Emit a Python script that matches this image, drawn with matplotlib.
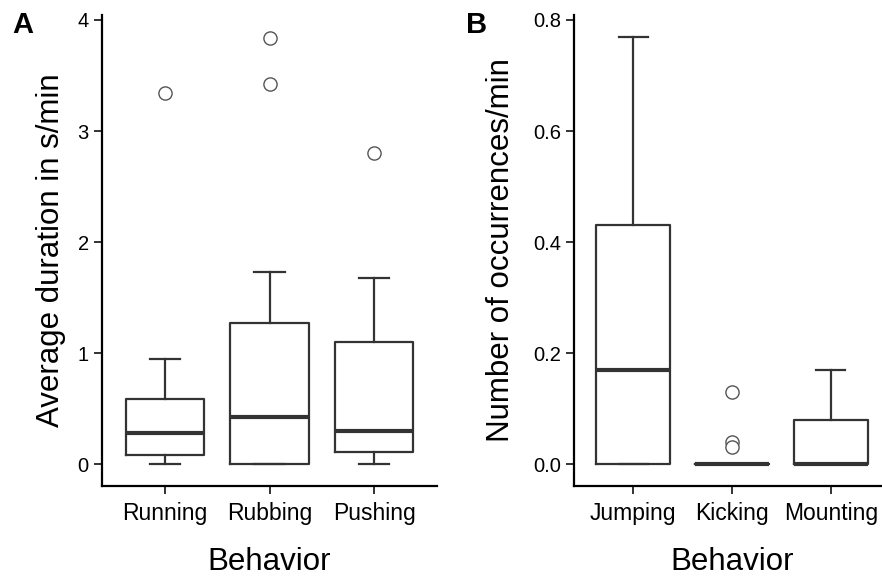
import matplotlib
matplotlib.use("Agg")
import matplotlib.pyplot as plt

plt.rcParams['font.family'] = ['Liberation Sans', 'DejaVu Sans']

# Panel A data (box statistics)
cats_a = ["Running", "Rubbing", "Pushing"]
whislo_a = [0.0, 0.0, 0.0]
q1_a = [0.08, 0.0, 0.115]
med_a = [0.28, 0.43, 0.30]
q3_a = [0.59, 1.27, 1.105]
whishi_a = [0.95, 1.73, 1.68]
fliers_a = [[3.34], [3.84, 3.42], [2.80]]
yticks_a = [0, 1, 2, 3, 4]

# Panel B data
cats_b = ["Jumping", "Kicking", "Mounting"]
whislo_b = [0.0, 0.0, 0.0]
q1_b = [0.0, 0.0, 0.0]
med_b = [0.17, 0.0, 0.0]
q3_b = [0.43, 0.0, 0.08]
whishi_b = [0.77, 0.0, 0.17]
fliers_b = [[], [0.13, 0.04, 0.03], []]
yticks_b = [0.0, 0.2, 0.4, 0.6, 0.8]

LINE = "#333333"

def make_stats(cats, wl, q1, med, q3, wh, fl):
    return [dict(label=c, whislo=a, q1=b, med=m, q3=d, whishi=e, fliers=f)
            for c, a, b, m, d, e, f in zip(cats, wl, q1, med, q3, wh, fl)]

def draw(ax, stats, yticks, ylim, ylabel, fmt, ylabelpad):
    ax.bxp(stats, positions=range(len(stats)), widths=0.75, capwidths=0.29,
           showfliers=True,
           boxprops=dict(color=LINE, linewidth=1.6),
           whiskerprops=dict(color=LINE, linewidth=1.6),
           capprops=dict(color=LINE, linewidth=1.6),
           medianprops=dict(color=LINE, linewidth=3.0, solid_capstyle='butt'),
           flierprops=dict(marker='o', markerfacecolor='white',
                           markeredgecolor='#555555', markersize=9.5,
                           markeredgewidth=1.0, linestyle='none'))
    ax.set_xlim(-0.6, len(stats) - 0.4)
    ax.set_ylim(*ylim)
    ax.set_yticks(yticks)
    ax.set_yticklabels([fmt.format(v) for v in yticks])
    ax.set_xticks(range(len(stats)))
    ax.set_xticklabels([s['label'] for s in stats])
    for s in ['top', 'right']:
        ax.spines[s].set_visible(False)
    for s in ['left', 'bottom']:
        ax.spines[s].set_linewidth(1.6)
        ax.spines[s].set_color('black')
    ax.tick_params(axis='both', direction='out', length=5.5, width=1.4, color='#333333')
    ax.tick_params(axis='x', labelsize=16.5, pad=6)
    ax.tick_params(axis='y', labelsize=14.5, pad=4)
    ax.set_xlabel("Behavior", fontsize=22.5, labelpad=16)
    ax.set_ylabel(ylabel, fontsize=22.5, labelpad=ylabelpad)

fig = plt.figure(figsize=(8.82, 5.81), dpi=100)
W, H = 882, 581
axA = fig.add_axes([102 / W, (H - 486) / H, (437 - 102) / W, (486 - 15) / H])
axB = fig.add_axes([574 / W, (H - 486) / H, (890 - 574) / W, (486 - 15) / H])

draw(axA, make_stats(cats_a, whislo_a, q1_a, med_a, q3_a, whishi_a, fliers_a),
     yticks_a, (-0.195, 4.045), "Average duration in s/min", "{:.0f}", 8)
draw(axB, make_stats(cats_b, whislo_b, q1_b, med_b, q3_b, whishi_b, fliers_b),
     yticks_b, (-0.0396, 0.809), "Number of occurrences/min", "{:.1f}", 12)

fig.text(12 / W, 1 - 33 / H, "A", fontsize=21, fontweight='bold')
fig.text(466 / W, 1 - 33 / H, "B", fontsize=21, fontweight='bold')

fig.savefig("out.png", dpi=100)
